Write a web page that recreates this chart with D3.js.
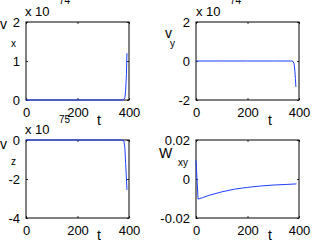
<!DOCTYPE html>
<html>
<head>
<meta charset="utf-8">
<script src="https://cdn.jsdelivr.net/npm/d3@7"></script>
<style>
  body { margin: 0; background: #fff; }
  svg { display: block; font-family: "Liberation Sans", Arial, sans-serif; }
  .tick text { font-size: 13px; fill: #000; }
  .tick line { stroke: #333; }
</style>
</head>
<body>
<script>
// time and values for each panel
const tVx = [0, 100, 200, 300, 370, 380, 384, 387, 390, 392];
const vx  = [0, 0, 0, 0, 0, 0.01, 0.06, 0.25, 0.65, 1.2];

const tVy = [0, 100, 200, 300, 370, 377, 381, 384, 386, 388];
const vy  = [0, 0, 0, 0, 0, -0.02, -0.15, -0.5, -0.9, -1.33];

const tVz = [0, 100, 200, 300, 370, 380, 384, 387, 390, 392];
const vz  = [0, 0, 0, 0, 0, -0.04, -0.4, -1.2, -2.0, -2.56];

const tW = [0, 8, 25, 50, 100, 150, 200, 250, 300, 350, 390];
const wxy = [0.0095, -0.0103, -0.0096, -0.0084, -0.0066, -0.0052, -0.0043, -0.0036, -0.0031, -0.0028, -0.0025];

const xTicks = [0, 200, 400];

const panels = [
  {t: tVx, v: vx, dom: [0, 2], ticks: [0, 1, 2], lab: "v", sub: "x", exp: "74",
   x0: 26, y0: 22, labPos: [0, 29, 11, 47], expPos: [25, 16, 59, 4], tPos: [99, 125]},
  {t: tVy, v: vy, dom: [-2, 2], ticks: [-2, 0, 2], lab: "v", sub: "y", exp: "74",
   x0: 196, y0: 22, labPos: [165, 38, 170, 47], expPos: [196, 16, 230, 4], tPos: [270, 125]},
  {t: tVz, v: vz, dom: [-4, 0], ticks: [-4, -2, 0], lab: "v", sub: "z", exp: "75",
   x0: 26, y0: 140, labPos: [0, 149, 11, 165], expPos: [25, 134, 59, 123], tPos: [99, 240]},
  {t: tW, v: wxy, dom: [-0.02, 0.02], ticks: [-0.02, 0, 0.02], lab: "W", sub: "xy", exp: null,
   x0: 196, y0: 140, labPos: [159, 158, 178, 166], expPos: null, tPos: [270, 240]}
];

const pw = 103, ph = 78;

const svg = d3.select("body").append("svg")
  .attr("width", 317)
  .attr("height", 243);

panels.forEach(p => {
  const g = svg.append("g").attr("transform", "translate(" + p.x0 + "," + p.y0 + ")");
  const x = d3.scaleLinear().domain([0, 400]).range([0, pw]);
  const y = d3.scaleLinear().domain(p.dom).range([ph, 0]);

  const fmt = d => d === 0 ? "0" : String(d);

  g.append("g").attr("transform", "translate(0," + ph + ")")
    .call(d3.axisBottom(x).tickValues(xTicks).tickSize(-2).tickPadding(8).tickFormat(fmt))
    .call(a => a.select(".domain").remove());
  g.append("g")
    .call(d3.axisTop(x).tickValues(xTicks).tickSize(-2).tickFormat(""))
    .call(a => a.select(".domain").remove());
  g.append("g")
    .call(d3.axisLeft(y).tickValues(p.ticks).tickSize(-2).tickPadding(6).tickFormat(fmt))
    .call(a => a.select(".domain").remove());
  g.append("g").attr("transform", "translate(" + pw + ",0)")
    .call(d3.axisRight(y).tickValues(p.ticks).tickSize(-2).tickFormat(""))
    .call(a => a.select(".domain").remove());

  g.selectAll(".tick text").attr("font-family", null).attr("font-size", null);

  g.append("rect")
    .attr("width", pw).attr("height", ph)
    .attr("fill", "none").attr("stroke", "#000").attr("stroke-width", 1);

  const pts = p.t.map((t, i) => [t, p.v[i]]);
  g.append("path")
    .datum(pts)
    .attr("fill", "none")
    .attr("stroke", "#1f3fff")
    .attr("stroke-width", 1)
    .attr("d", d3.line().x(d => x(d[0])).y(d => y(d[1])));

  // labels in page coordinates
  svg.append("text").attr("x", p.labPos[0]).attr("y", p.labPos[1])
    .attr("font-size", 14).text(p.lab);
  svg.append("text").attr("x", p.labPos[2]).attr("y", p.labPos[3])
    .attr("font-size", 10).text(p.sub);
  svg.append("text").attr("x", p.tPos[0]).attr("y", p.tPos[1])
    .attr("font-size", 14).attr("text-anchor", "middle").text("t");
  if (p.exp) {
    svg.append("text").attr("x", p.expPos[0]).attr("y", p.expPos[1])
      .attr("font-size", 13).text("x 10");
    svg.append("text").attr("x", p.expPos[2]).attr("y", p.expPos[3])
      .attr("font-size", 10).text(p.exp);
  }
});
</script>
</body>
</html>
